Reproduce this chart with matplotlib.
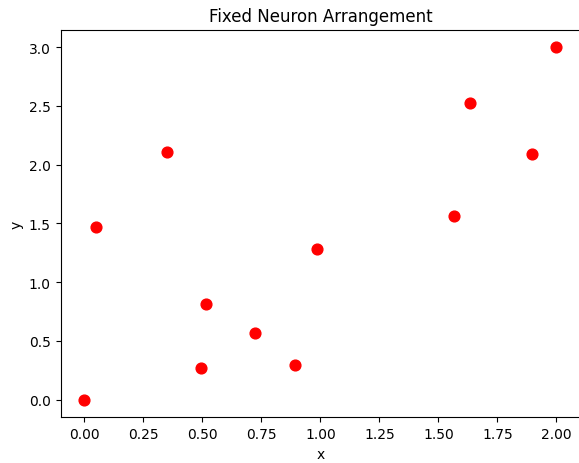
import matplotlib
matplotlib.use("Agg")
import matplotlib.pyplot as plt

x_vals = [0.0, 0.049, 0.350, 0.517, 0.494, 0.725, 0.893, 0.987, 1.565, 1.632, 1.898, 2.0]
y_vals = [0.0, 1.470, 2.108, 0.810, 0.266, 0.569, 0.292, 1.286, 1.561, 2.527, 2.088, 3.0]

fig = plt.figure(figsize=(5.79, 4.64), dpi=100)
ax = fig.add_axes([60.6/579, 1 - 418.3/464, 519.5/579, (418.3-30.5)/464])
ax.scatter(x_vals, y_vals, color='red', s=60)
ax.set_title("Fixed Neuron Arrangement")
ax.set_xlabel("x")
ax.set_ylabel("y")
fig.savefig("out.png", dpi=100)
